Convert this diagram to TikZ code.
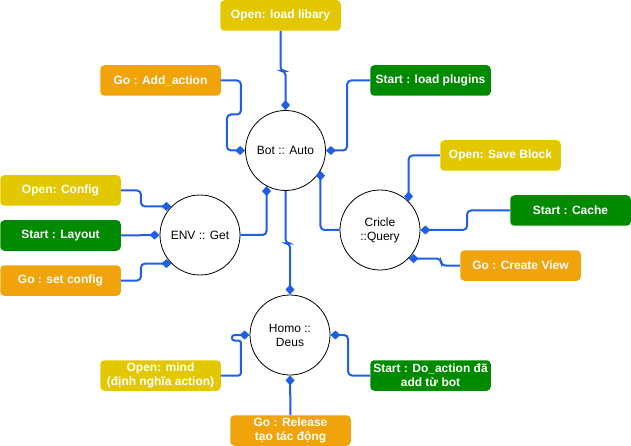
\documentclass[tikz,border=0pt]{standalone}
\usepackage{fontspec}
\setmainfont{Liberation Sans}
\usepackage{xcolor}
\usepackage{tikz}
\usetikzlibrary{arrows.meta}
\definecolor{openfill}{HTML}{E3C800}
\definecolor{startfill}{HTML}{008A00}
\definecolor{gofill}{HTML}{F0A30A}
\definecolor{linkblue}{HTML}{1F5FE6}
\tikzstyle{hub} = [circle,draw=black,line width=0.8pt,fill=white,minimum size=80pt,inner sep=0pt,align=center,font=\fontsize{12}{14}\selectfont]
\tikzstyle{task} = [rectangle,rounded corners=4pt,minimum width=120.5pt,minimum height=30.5pt,inner sep=1pt,align=center,text=white,font=\fontsize{12}{14}\selectfont\bfseries]
\tikzstyle{openbox} = [task,fill=openfill]
\tikzstyle{startbox} = [task,fill=startfill]
\tikzstyle{gobox} = [task,fill=gofill]
\tikzstyle{link} = [draw=linkblue,line width=2pt,rounded corners=4pt,-{Diamond[length=10pt,width=9pt]}]

\begin{document}
\begin{tikzpicture}[x=1pt,y=-1pt]
	\useasboundingbox (0,0) rectangle (631,446);
	% hubs
	\node[hub]      (bot)     at (285.5,150.5)  {Bot :: Auto};
	\node[hub]      (env)     at (200,235)      {ENV :: Get};
	\node[hub]      (cq)      at (380,230)      {Cricle\\::Query};
	\node[hub]      (homo)    at (290,335)      {Homo ::\\Deus};
	% tasks
	\node[openbox]  (lib)     at (280.5,15.5)   {Open: load libary};
	\node[gobox]    (addact)  at (160.5,80.5)   {Go : Add\_action};
	\node[startbox] (plugins) at (430.5,80.5)   {Start : load plugins};
	\node[openbox]  (savebl)  at (500.5,155.5)  {Open: Save Block};
	\node[startbox] (cache)   at (570.5,210.5)  {Start : Cache};
	\node[gobox]    (view)    at (520.5,265.5)  {Go : Create View};
	\node[openbox]  (config)  at (60.5,190.5)   {Open: Config};
	\node[startbox] (layout)  at (60.5,235.5)   {Start : Layout};
	\node[gobox]    (setcfg)  at (60.5,280.5)   {Go : set config};
	\node[openbox]  (mind)    at (160.5,375.5)  {Open: mind\\(định nghĩa action)};
	\node[startbox] (doact)   at (430.5,375.5)  {Start : Do\_action đã\\add từ bot};
	\node[gobox]    (release) at (290.5,430.5)  {Go : Release\\tạo tác động};
	% links
	\draw[link] (lib.south) -- ++(0,40) -| (bot.north);
	\draw[link] (addact.east) -- ++(20,0) -- ++(0,34) -- ++(-14,0) |- (bot.west);
	\draw[link] (plugins.west) -- ++(-23,0) |- (bot.east);
	\draw[link] (env.east) -| (bot.-118);
	\draw[link] (cq.west) -| (bot.-30);
	\draw[link] (bot.south) -- ++(0,52.5) -| (homo.north);
	\draw[link] (savebl.west) -| (cq.45);
	\draw[link] (cache.west) -- ++(-43,0) |- (cq.east);
	\draw[link] (view.west) -- ++(-19,0) |- (cq.-45);
	\draw[link] (config.east) -- ++(20,0) |- (env.135);
	\draw[link] (layout.east) -- (env.west);
	\draw[link] (setcfg.east) -- ++(20,0) |- (env.-135);
	\draw[link,rounded corners=2.5pt] (mind.east) -- ++(20,0) -- ++(0,-35) -- ++(-9,0) -- ++(0,-5.5) -- (homo.west);
	\draw[link] (doact.west) -- ++(-22,0) |- (homo.east);
	\draw[link] (release.north) -- (homo.south);
\end{tikzpicture}
\end{document}
